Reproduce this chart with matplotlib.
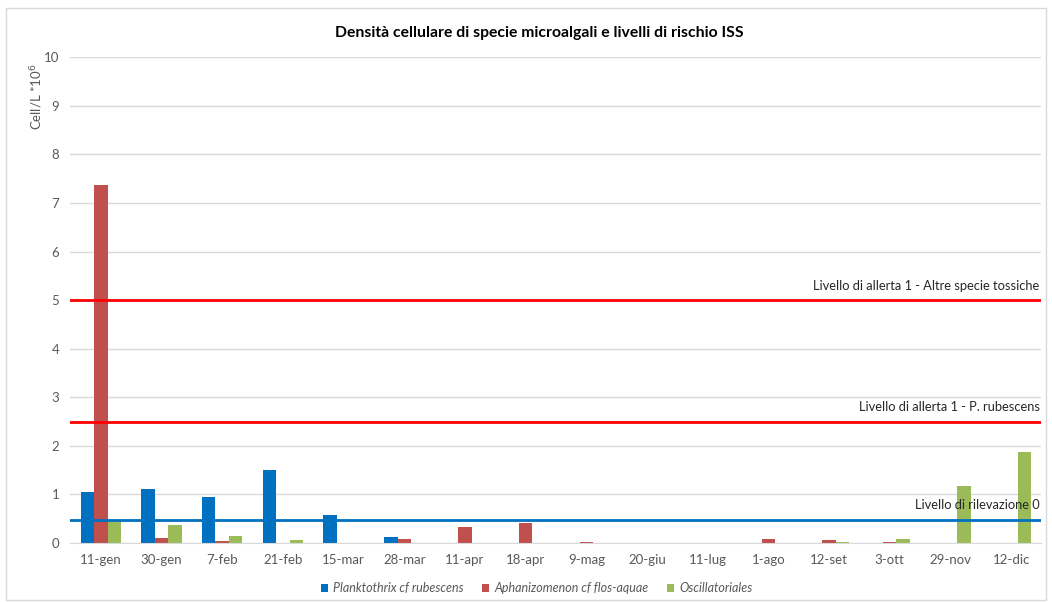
import numpy as np
import matplotlib.pyplot as plt
from matplotlib.patches import Rectangle

date_labels = ["11-gen", "30-gen", "7-feb", "21-feb", "15-mar", "28-mar", "11-apr", "18-apr",
               "9-mag", "20-giu", "11-lug", "1-ago", "12-set", "3-ott", "29-nov", "12-dic"]
planktothrix = [1.05, 1.12, 0.94, 1.50, 0.58, 0.13, 0, 0, 0, 0, 0, 0, 0, 0, 0, 0]
aphanizomenon = [7.37, 0.10, 0.05, 0, 0, 0.08, 0.33, 0.41, 0.03, 0, 0, 0.08, 0.07, 0.03, 0, 0]
oscillatoriales = [0.47, 0.38, 0.15, 0.07, 0, 0, 0, 0, 0, 0, 0, 0, 0.03, 0.08, 1.17, 1.87]
series_names = ["Planktothrix cf rubescens", "Aphanizomenon cf flos-aquae", "Oscillatoriales"]
levels = [5.0, 2.5, 0.48]
level_labels = ["Livello di allerta 1 - Altre specie tossiche",
                "Livello di allerta 1 - P. rubescens",
                "Livello di rilevazione 0"]

plt.rcParams['font.family'] = ['Lato', 'DejaVu Sans']

fig = plt.figure(figsize=(10.52, 6.02), dpi=100)
fig.patches.append(Rectangle((0.006, 0.004), 0.988, 0.982, transform=fig.transFigure,
                             fill=False, edgecolor='#D9D9D9', linewidth=1))
ax = fig.add_axes([0.067, 0.098, 0.923, 0.807])

x = np.arange(len(date_labels))
w = 0.222
colors = ["#0070C0", "#C0504D", "#9BBB59"]
for i, (vals, c, name) in enumerate(zip([planktothrix, aphanizomenon, oscillatoriales], colors, series_names)):
    ax.bar(x + (i - 1) * w, vals, w, color=c, label=name, zorder=2)

line_colors = ["#FF0000", "#FF0000", "#0070C0"]
for lv, lab, c in zip(levels, level_labels, line_colors):
    ax.axhline(lv, color=c, linewidth=2, zorder=3)
    ax.text(len(date_labels) - 0.53, lv + 0.17, lab, ha='right', va='bottom',
            fontsize=9.3, color='#262626', zorder=4)

ax.set_xlim(-0.5, len(date_labels) - 0.5)
ax.set_ylim(0, 10)
ax.set_yticks(range(0, 11))
ax.set_xticks(x)
ax.set_xticklabels(date_labels)
ax.tick_params(axis='both', length=0, labelsize=9.5, colors='#595959', pad=8)
ax.grid(axis='y', color='#D9D9D9', linewidth=1, zorder=0)
for s in ['top', 'right', 'left']:
    ax.spines[s].set_visible(False)
ax.spines['bottom'].set_color('#D9D9D9')

ax.set_ylabel("Cell/L *10$^6$", loc='top', fontsize=9.5, color='#595959')
ax.yaxis.set_label_coords(-0.026, 0.988)
fig.text(0.513, 0.945, "Densità cellulare di specie microalgali e livelli di rischio ISS",
         ha='center', va='center', fontsize=11.3, fontweight='bold', color='#000000')

leg = ax.legend(loc='upper center', bbox_to_anchor=(0.48, -0.058), ncol=3, frameon=False,
                handlelength=0.55, handleheight=0.55, handletextpad=0.4, columnspacing=1.5,
                prop={'size': 9, 'style': 'italic'})
for t in leg.get_texts():
    t.set_color('#595959')

fig.savefig("out.png", dpi=100)
